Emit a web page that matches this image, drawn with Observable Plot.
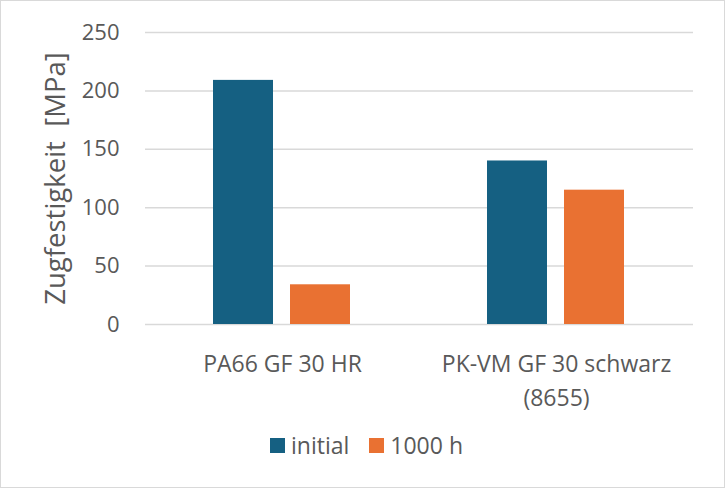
<!DOCTYPE html>
<html><head><meta charset="utf-8">
<script src="https://cdn.jsdelivr.net/npm/d3@7"></script>
<script src="https://cdn.jsdelivr.net/npm/@observablehq/plot@0.6"></script>
<style>
body{margin:0;background:#fff;font-family:"Open Sans",sans-serif;}
#wrap{position:relative;width:725px;height:488px;overflow:hidden;background:#fff;}
#frame{position:absolute;left:0;top:0;width:725px;height:488px;box-sizing:border-box;border:1px solid #d9d9d9;pointer-events:none;}
#chart svg{display:block;}
#legend{display:flex;align-items:center;height:30px;margin-left:270px;color:#595959;font-size:23px;font-family:"Open Sans",sans-serif;}
#legend .item{display:flex;align-items:center;margin-right:20px;}
#legend .sw{width:15px;height:15px;display:inline-block;margin-right:6px;}
</style></head><body>
<div id="wrap"><div id="chart"></div><div id="legend"></div><div id="frame"></div></div>
<script>
const categories = ["PA66 GF 30 HR", "PK-VM GF 30 schwarz\n(8655)"];
const seriesNames = ["initial", "1000 h"];
const initialValues = [209, 140];
const after1000hValues = [34, 115];
const seriesColors = ["#156082", "#E97132"];
const yTicks = [0, 50, 100, 150, 200, 250];
const yTitle = "Zugfestigkeit  [MPa]";

const data = categories.flatMap((c, i) => [
  {category: c, series: seriesNames[0], value: initialValues[i]},
  {category: c, series: seriesNames[1], value: after1000hValues[i]}
]);

const chart = Plot.plot({
  width: 725, height: 430,
  marginTop: 32, marginBottom: 106, marginLeft: 144, marginRight: 32,
  style: {fontFamily: "Open Sans", color: "#595959", background: "transparent"},
  fx: {domain: categories, padding: 0, label: null},
  x: {domain: seriesNames, paddingInner: 0.218, paddingOuter: 0.8686, axis: null},
  y: {domain: [0, 250], label: null},
  color: {domain: seriesNames, range: seriesColors},
  marks: [
    Plot.gridY(yTicks, {stroke: "#d9d9d9", strokeOpacity: 1, strokeWidth: 1.5}),
    Plot.barY(data, {fx: "category", x: "series", y: "value", fill: "series"}),
    Plot.axisY(yTicks, {tickSize: 0, tickPadding: 26, fontSize: 22, label: null}),
    Plot.axisY([], {tickSize: 0, fontSize: 27.5, label: yTitle, labelAnchor: "center", labelOffset: 100, labelArrow: "none", dy: -3}),
    Plot.axisFx({anchor: "bottom", tickSize: 0, tickPadding: 24, fontSize: 23, lineHeight: 1.45, label: null})
  ]
});
document.getElementById("chart").append(chart);

const legend = document.getElementById("legend");
seriesNames.forEach((s, i) => {
  const item = document.createElement("div");
  item.className = "item";
  const sw = document.createElement("span");
  sw.className = "sw";
  sw.style.background = seriesColors[i];
  item.append(sw, document.createTextNode(s));
  legend.append(item);
});
</script>
</body></html>
